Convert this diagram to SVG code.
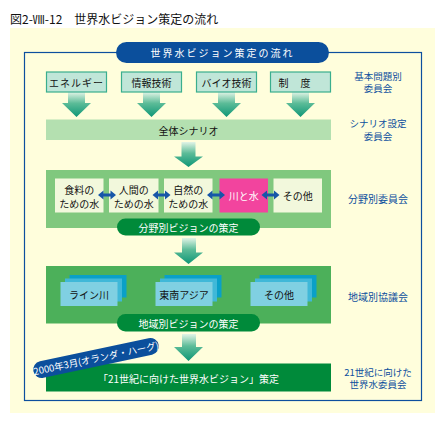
<svg xmlns="http://www.w3.org/2000/svg" width="445" height="424" viewBox="0 0 445 424">
<style>
text{font-family:"Noto Sans CJK JP","Noto Sans",sans-serif;font-size:10px;text-anchor:middle;dominant-baseline:central}
.dk{fill:#111}
.wh{fill:#fff}
.bl{fill:#0d4f9e}
.lb{font-size:9.5px}
.top{fill:#c0e6d8;stroke:#3aae8e;stroke-width:1.2}
.inner{fill:#f2f8dc}
.c1{fill:#0aa0c8}
.c2{fill:#40b8d8}
.c3{fill:#80d0e2}
.pill{fill:#008a3a}
.dbl{fill:#1656a8}
</style>
<defs>
<linearGradient id="ag" x1="0" y1="0" x2="0" y2="1">
<stop offset="0" stop-color="#e2f4e6"/>
<stop offset="0.45" stop-color="#5cbc98"/>
<stop offset="1" stop-color="#0e9676"/>
</linearGradient>
</defs>
<text x="10" y="18" class="dk" style="text-anchor:start;font-size:12px">図2-Ⅷ-12　世界水ビジョン策定の流れ</text>
<rect x="10" y="28" width="425" height="385" fill="#fffedc"/>
<rect x="24.5" y="52.5" width="397" height="348" fill="none" stroke="#0d4f9e" stroke-width="1.2"/>

<g id="title">
<rect x="116" y="42" width="213" height="21" rx="10.5" fill="#0b4f9c"/>
<text x="222.5" y="52.5" class="wh" style="letter-spacing:2px">世界水ビジョン策定の流れ</text>
</g>

<g id="connectors">
<path d="M68,92 H85 V103 H91 L76.5,117 L62,103 H68 Z" fill="url(#ag)"/>
<path d="M143,92 H160 V103 H166 L151.5,117 L137,103 H143 Z" fill="url(#ag)"/>
<path d="M218,92 H235 V103 H241 L226.5,117 L212,103 H218 Z" fill="url(#ag)"/>
<path d="M292,92 H309 V103 H315 L300.5,117 L286,103 H292 Z" fill="url(#ag)"/>
<path d="M181.5,142 H195.5 V156.5 H203 L188.5,167 L174,156.5 H181.5 Z" fill="url(#ag)"/>
<path d="M182,238 H196 V252.5 H203 L188.5,264 L174,252.5 H182 Z" fill="url(#ag)"/>
<path d="M182,334 H196 V347 H203 L188.5,361 L174,347 H182 Z" fill="url(#ag)"/>
</g>

<g id="n-energy"><rect x="46.5" y="72" width="60" height="20" class="top"/><text x="76.5" y="82" class="dk" style="letter-spacing:1px">エネルギー</text></g>
<g id="n-info"><rect x="121.5" y="72" width="60" height="20" class="top"/><text x="151.5" y="82" class="dk">情報技術</text></g>
<g id="n-bio"><rect x="196.5" y="72" width="60" height="20" class="top"/><text x="226.5" y="82" class="dk">バイオ技術</text></g>
<g id="n-system"><rect x="270.5" y="72" width="60" height="20" class="top"/><text x="300.5" y="82" class="dk" style="letter-spacing:12px">制度</text></g>

<g id="n-scenario"><rect x="46" y="119.5" width="285" height="20.5" fill="#b4e0b0"/><text x="188.5" y="130" class="dk">全体シナリオ</text></g>

<g id="n-field">
<rect x="46" y="170" width="285" height="58" fill="#80c87e"/>
<rect x="55" y="178.5" width="48.5" height="34" class="inner"/>
<text class="dk"><tspan x="79.2" y="189">食料の</tspan><tspan x="79.2" y="202.5">ための水</tspan></text>
<rect x="109" y="178.5" width="49.5" height="34" class="inner"/>
<text class="dk"><tspan x="133.7" y="189">人間の</tspan><tspan x="133.7" y="202.5">ための水</tspan></text>
<rect x="164" y="178.5" width="48.5" height="34" class="inner"/>
<text class="dk"><tspan x="188.2" y="189">自然の</tspan><tspan x="188.2" y="202.5">ための水</tspan></text>
<rect x="219.5" y="178.5" width="48.5" height="34" fill="#f2449e"/>
<text x="243.7" y="195" class="wh">川と水</text>
<rect x="273.5" y="178.5" width="48.5" height="34" class="inner"/>
<text x="297.7" y="195" class="dk">その他</text>
<path transform="translate(107,195)" d="M-9,0 L-3.5,-4.5 V-1.5 H3.5 V-4.5 L9,0 L3.5,4.5 V1.5 H-3.5 V4.5 Z" class="dbl"/>
<path transform="translate(161.5,195)" d="M-9,0 L-3.5,-4.5 V-1.5 H3.5 V-4.5 L9,0 L3.5,4.5 V1.5 H-3.5 V4.5 Z" class="dbl"/>
<path transform="translate(216,195)" d="M-9,0 L-3.5,-4.5 V-1.5 H3.5 V-4.5 L9,0 L3.5,4.5 V1.5 H-3.5 V4.5 Z" class="dbl"/>
<path transform="translate(270.5,195)" d="M-9,0 L-3.5,-4.5 V-1.5 H3.5 V-4.5 L9,0 L3.5,4.5 V1.5 H-3.5 V4.5 Z" class="dbl"/>
<rect x="117" y="218.5" width="143" height="17" rx="8.5" class="pill"/>
<text x="188.5" y="227" class="wh">分野別ビジョンの策定</text>
</g>

<g id="n-region">
<rect x="46" y="266" width="285" height="57.5" fill="#4cb05a"/>
<rect x="69.5" y="275" width="57" height="22.5" class="c1"/>
<rect x="65" y="278.5" width="57" height="23" class="c2"/>
<rect x="60.5" y="282" width="57" height="24" class="c3"/>
<text x="89" y="294" class="dk">ライン川</text>
<rect x="164.5" y="275" width="57" height="22.5" class="c1"/>
<rect x="160" y="278.5" width="57" height="23" class="c2"/>
<rect x="155.5" y="282" width="57" height="24" class="c3"/>
<text x="184" y="294" class="dk">東南アジア</text>
<rect x="259.5" y="275" width="57" height="22.5" class="c1"/>
<rect x="255" y="278.5" width="57" height="23" class="c2"/>
<rect x="250.5" y="282" width="57" height="24" class="c3"/>
<text x="279" y="294" class="dk">その他</text>
<rect x="117" y="314" width="143" height="17.5" rx="8.5" class="pill"/>
<text x="188.5" y="323" class="wh">地域別ビジョンの策定</text>
</g>

<g id="n-final">
<rect x="46" y="363.5" width="285" height="28" fill="#008a3a"/>
<text x="188.5" y="378" class="wh">「21世紀に向けた世界水ビジョン」策定</text>
</g>

<g id="n-date" transform="translate(96,358) rotate(-12)">
<rect x="-64" y="-8.5" width="128" height="17" rx="8.5" fill="#0b4f9c"/>
<text x="0" y="0" class="wh" style="font-size:9.5px">2000年3月(オランダ・ハーグ)</text>
</g>

<g id="labels">
<text class="bl lb"><tspan x="378" y="75.5">基本問題別</tspan><tspan x="378" y="88">委員会</tspan></text>
<text class="bl lb"><tspan x="378" y="123">シナリオ設定</tspan><tspan x="378" y="135.5">委員会</tspan></text>
<text x="378" y="198.5" class="bl">分野別委員会</text>
<text x="378" y="296" class="bl">地域別協議会</text>
<text class="bl lb"><tspan x="378" y="371.5">21世紀に向けた</tspan><tspan x="378" y="384">世界水委員会</tspan></text>
</g>
</svg>
